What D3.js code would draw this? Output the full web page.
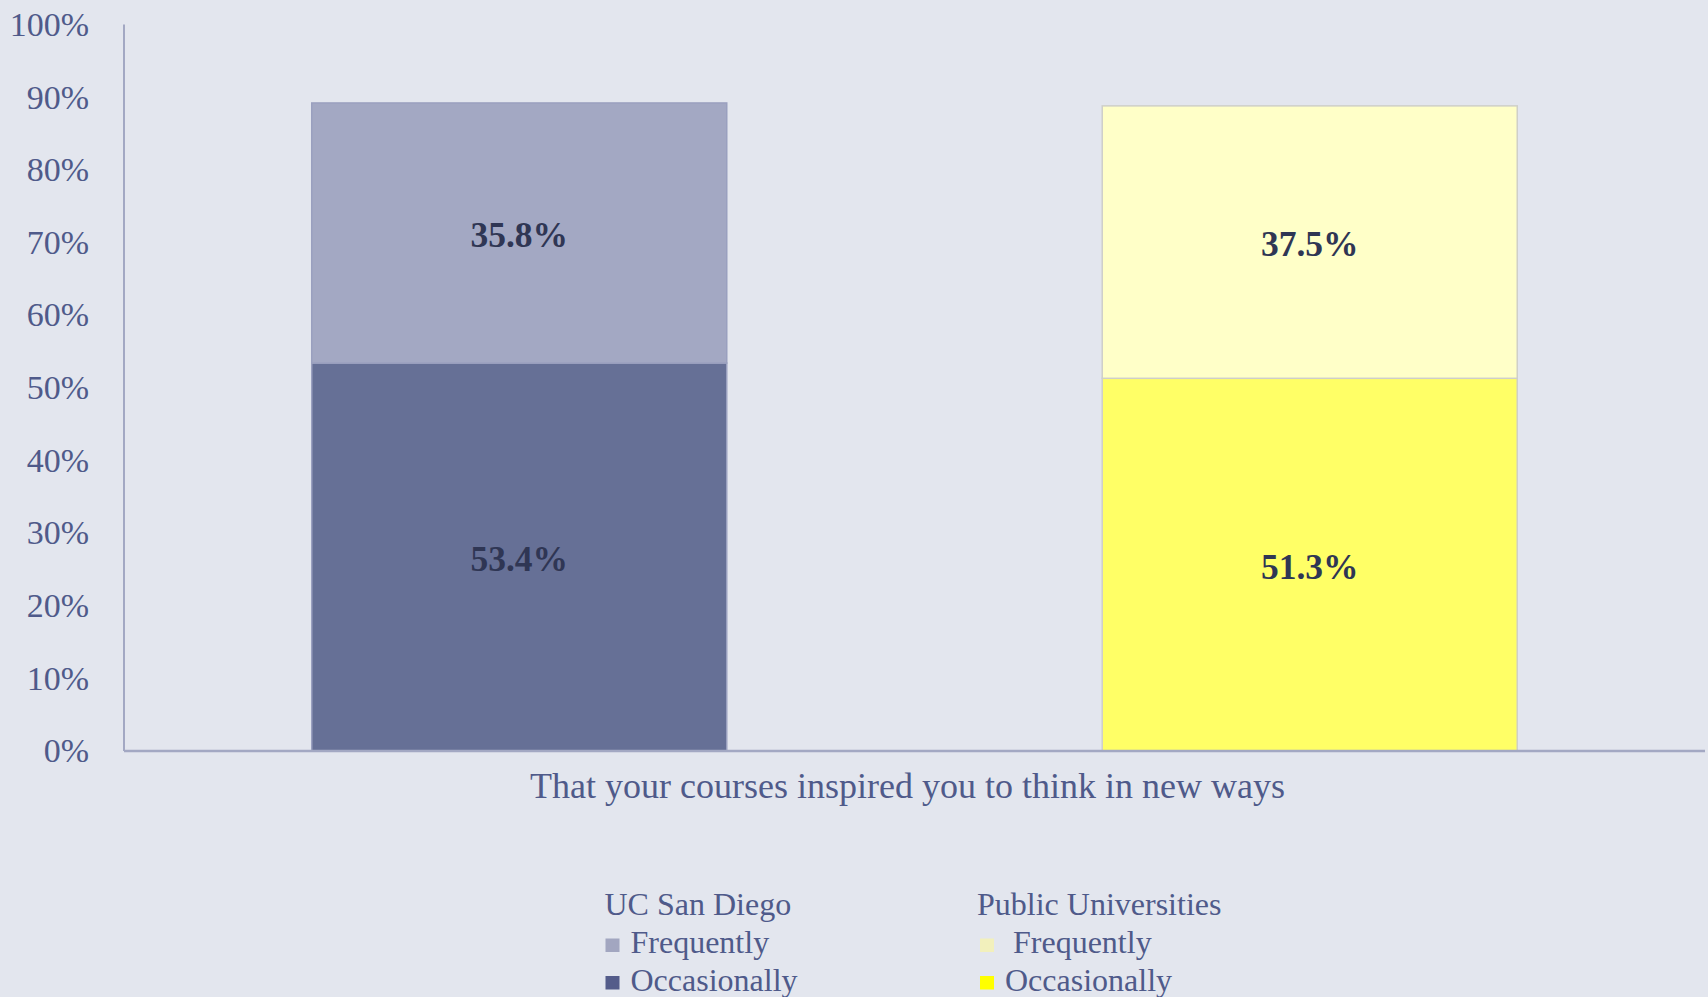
<!DOCTYPE html>
<html>
<head>
<meta charset="utf-8">
<script src="https://cdn.jsdelivr.net/npm/d3@7"></script>
<style>
  html, body { margin: 0; padding: 0; background: #e3e6ee; }
  svg { display: block; }
  text { font-family: "Liberation Serif", "Times New Roman", serif; }
</style>
</head>
<body>
<svg id="chart" width="1708" height="997"></svg>
<script>
// ---- data ----
const category = "That your courses inspired you to think in new ways";
const groups = ["UC San Diego", "Public Universities"];
const occasionally = [53.4, 51.3];
const frequently = [35.8, 37.5];
const yTicks = [0, 10, 20, 30, 40, 50, 60, 70, 80, 90, 100];
const legendGroups = ["UC San Diego", "Public Universities"];
const legendItems = [["Frequently", "Occasionally"], [" Frequently", "Occasionally"]];

// ---- styles ----
const barColors = [
  { occ: "#667096", freq: "#a3a8c3", stroke: "#9aa0bf" },
  { occ: "#ffff66", freq: "#ffffc8", stroke: "#cfcfc9" }
];
const legendColors = [["#a2a6c0", "#545c8a"], ["#f2f0bc", "#ffff00"]];
const textColor = "#4f5a8a";
const valueColor = "#2f3654";
const axisColor = "#a3a8c3";

const svg = d3.select("#chart");
const mLeft = 124, mRight = 1705, mTop = 24.5, mBottom = 751;

const x = d3.scaleBand().domain(groups).range([mLeft, mRight])
  .paddingInner(0.475).paddingOuter(0.2375);
const y = d3.scaleLinear().domain([0, 100]).range([mBottom, mTop]);

// y axis labels
const yAxis = d3.axisLeft(y).tickValues(yTicks).tickFormat(d => d + "%").tickSize(0).tickPadding(35);
const yg = svg.append("g").attr("transform", `translate(${mLeft},0)`).call(yAxis);
yg.select(".domain").remove();
yg.selectAll("text").attr("fill", textColor).style("font-size", "34px")
  .style("font-family", '"Liberation Serif", serif');

// bars
const data = groups.map((g, i) => ({ g, i, occ: occasionally[i], freq: frequently[i] }));
const bars = svg.append("g");
data.forEach(d => {
  const c = barColors[d.i];
  bars.append("rect")
    .attr("x", x(d.g)).attr("width", x.bandwidth())
    .attr("y", y(d.occ)).attr("height", y(0) - y(d.occ))
    .attr("fill", c.occ).attr("stroke", c.stroke).attr("stroke-width", 1.5);
  bars.append("rect")
    .attr("x", x(d.g)).attr("width", x.bandwidth())
    .attr("y", y(d.occ + d.freq)).attr("height", y(d.occ) - y(d.occ + d.freq))
    .attr("fill", c.freq).attr("stroke", c.stroke).attr("stroke-width", 1.5);
  bars.append("text")
    .attr("x", x(d.g) + x.bandwidth() / 2).attr("y", (y(0) + y(d.occ)) / 2 + 2)
    .attr("text-anchor", "middle").attr("dominant-baseline", "central")
    .attr("fill", valueColor).style("font-size", "35.5px").style("font-weight", "bold")
    .text(d.occ.toFixed(1) + "%");
  bars.append("text")
    .attr("x", x(d.g) + x.bandwidth() / 2).attr("y", (y(d.occ) + y(d.occ + d.freq)) / 2 + 2)
    .attr("text-anchor", "middle").attr("dominant-baseline", "central")
    .attr("fill", valueColor).style("font-size", "35.5px").style("font-weight", "bold")
    .text(d.freq.toFixed(1) + "%");
});

// axis lines
svg.append("line").attr("x1", mLeft).attr("x2", mLeft).attr("y1", y(100)).attr("y2", y(0))
  .attr("stroke", axisColor).attr("stroke-width", 2);
svg.append("line").attr("x1", mLeft).attr("x2", mRight).attr("y1", y(0)).attr("y2", y(0))
  .attr("stroke", axisColor).attr("stroke-width", 2.5);

// category label
svg.append("text").attr("x", (mLeft + mRight) / 2 - 7).attr("y", 798)
  .attr("text-anchor", "middle").attr("fill", textColor).style("font-size", "36px")
  .text(category);

// legend
const legendX = [604.5, 977];
legendGroups.forEach((g, gi) => {
  const lg = svg.append("g");
  lg.append("text").attr("x", legendX[gi]).attr("y", 915)
    .attr("fill", textColor).style("font-size", "32px").text(g);
  legendItems[gi].forEach((item, ii) => {
    const base = 953 + ii * 37.5;
    lg.append("rect").attr("x", legendX[gi] + 1 + (gi ? 2 : 0)).attr("y", base - 14.5)
      .attr("width", 14).attr("height", 13.5).attr("fill", legendColors[gi][ii]);
    lg.append("text").attr("x", legendX[gi] + (gi ? 28 : 26)).attr("y", base)
      .attr("fill", textColor).style("font-size", "32px").style("white-space", "pre")
      .text(item);
  });
});
</script>
</body>
</html>
